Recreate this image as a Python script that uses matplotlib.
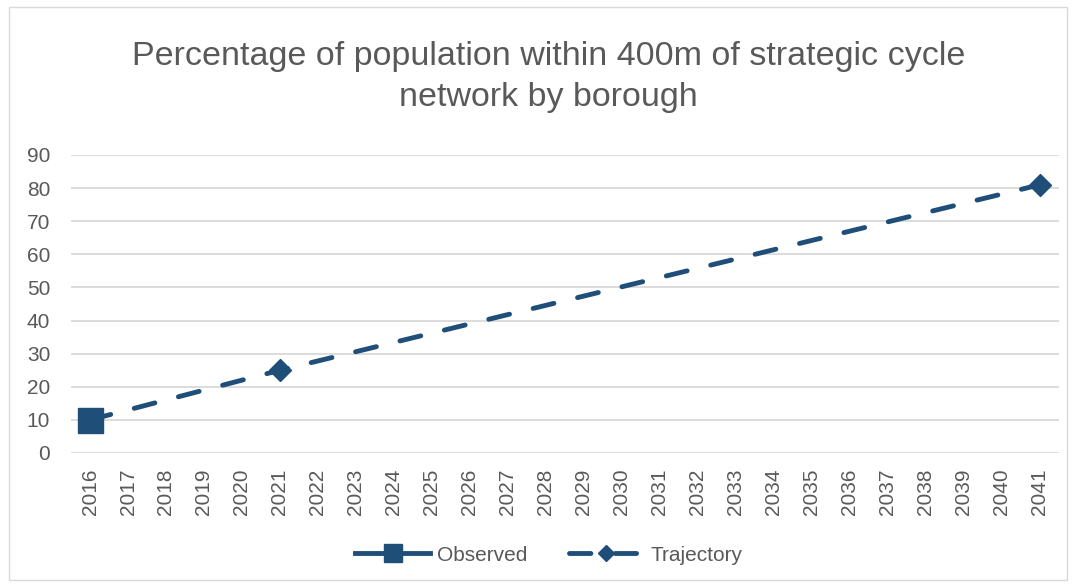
import matplotlib.pyplot as plt
from matplotlib.patches import Rectangle

plt.rcParams['font.family'] = ['Liberation Sans', 'DejaVu Sans']

# chart data
years = list(range(2016, 2042))
observed_years = [2016]
observed_values = [10]
trajectory_years = [2016, 2021, 2041]
trajectory_values = [10, 25, 81]

blue = '#1F4E79'
grey_text = '#595959'

fig = plt.figure(figsize=(10.76, 5.88), dpi=100)
ax = fig.add_axes([0.066, 0.2296, 0.918, 0.5068])

# positions on the category axis
obs_x = [years.index(y) for y in observed_years]
traj_x = [years.index(y) for y in trajectory_years]

ax.plot(traj_x, trajectory_values, color=blue, lw=3.5, linestyle=(0, (4.4, 5.0)),
        dash_capstyle='round', marker='D', markersize=11, label='Trajectory', zorder=3)
ax.plot(obs_x, observed_values, color=blue, lw=3.5, marker='s', markersize=18,
        label='Observed', zorder=4)

ax.set_xlim(-0.5, len(years) - 0.5)
ax.set_ylim(0, 90)
ax.set_yticks(range(0, 91, 10))
ax.set_xticks(range(len(years)))
ax.set_xticklabels([str(y) for y in years], rotation=90)
ax.tick_params(axis='both', length=0, labelsize=15, labelcolor=grey_text)
ax.tick_params(axis='x', pad=11)
ax.tick_params(axis='y', pad=15)
ax.grid(axis='y', color='#D9D9D9', lw=1.3)
ax.set_axisbelow(True)
for s in ax.spines.values():
    s.set_visible(False)

fig.suptitle('Percentage of population within 400m of strategic cycle\nnetwork by borough',
             x=0.51, y=0.93, fontsize=24.5, color=grey_text, linespacing=1.42)

handles, labels = ax.get_legend_handles_labels()
leg = fig.legend(handles[::-1], labels[::-1], loc='center', bbox_to_anchor=(0.51, 0.056),
                 ncol=2, frameon=False, fontsize=15, handlelength=3.6, columnspacing=2.0,
                 handletextpad=0.3, markerscale=0.7, labelcolor=grey_text)

fig.patches.append(Rectangle((0.008, 0.013), 0.984, 0.975, transform=fig.transFigure,
                             fill=False, edgecolor='#D9D9D9', lw=1))

fig.savefig('out.png', dpi=100, facecolor='white')
